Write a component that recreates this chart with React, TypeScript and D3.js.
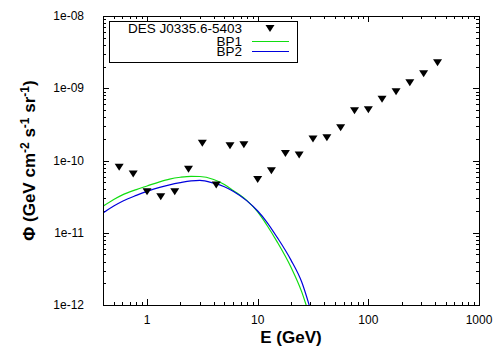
import React, { useEffect, useRef } from 'react';
import * as d3 from 'd3';

// DES J0335.6-5403 upper limits
const energies = [0.56, 0.75, 1.0, 1.33, 1.78, 2.37, 3.16, 4.22, 5.62, 7.5, 10, 13.3, 17.8, 23.7, 31.6, 42.2, 56.2, 75, 100, 133, 178, 237, 316, 422];
const fluxes = [8.05e-11, 6.5e-11, 3.7e-11, 3.16e-11, 3.7e-11, 7.55e-11, 1.73e-10, 4.58e-11, 1.6e-10, 1.65e-10, 5.46e-11, 7.22e-11, 1.25e-10, 1.19e-10, 1.99e-10, 2.07e-10, 2.84e-10, 4.89e-10, 5.05e-10, 7.03e-10, 8.96e-10, 1.19e-9, 1.59e-9, 2.26e-9];

// model curves
const curveE = [0.4, 0.5, 0.6, 0.8, 1, 1.3, 1.6, 2, 2.5, 3, 4, 5, 6, 8, 10, 12, 15, 20, 25, 30];
const bp1 = [2.32e-11, 2.88e-11, 3.34e-11, 3.96e-11, 4.44e-11, 5.07e-11, 5.53e-11, 5.86e-11, 6.04e-11, 6.01e-11, 5.46e-11, 4.66e-11, 3.85e-11, 2.78e-11, 1.94e-11, 1.3e-11, 7.47e-12, 3.33e-12, 1.52e-12, 6.4e-13];
const bp2 = [1.87e-11, 2.34e-11, 2.73e-11, 3.29e-11, 3.74e-11, 4.25e-11, 4.61e-11, 4.94e-11, 5.22e-11, 5.32e-11, 4.86e-11, 4.33e-11, 3.75e-11, 2.76e-11, 2.0e-11, 1.43e-11, 8.63e-12, 4.18e-12, 2.08e-12, 8.67e-13];

const xTicks = [1, 10, 100, 1000];
const xTickLabels = ['1', '10', '100', '1000'];
const yTicks = [1e-12, 1e-11, 1e-10, 1e-9, 1e-8];
const yTickLabels = ['1e-12', '1e-11', '1e-10', '1e-09', '1e-08'];

const FONT = '"Liberation Sans", Arial, sans-serif';

const App = () => {
  const svgRef = useRef<SVGSVGElement>(null);

  useEffect(() => {
    const width = 500;
    const height = 350;
    const margin = { top: 16, right: 21, bottom: 45, left: 103 };

    const svg = d3.select(svgRef.current)
      .attr('width', width)
      .attr('height', height);
    svg.selectAll('*').remove();

    const x = d3.scaleLog().domain([0.4, 1000]).range([margin.left, width - margin.right]);
    const y = d3.scaleLog().domain([1e-12, 1e-8]).range([height - margin.bottom, margin.top]);
    const [x0, x1] = x.range();
    const [y0, y1] = y.range();

    svg.append('rect')
      .attr('width', width).attr('height', height).attr('fill', '#fff');

    svg.append('clipPath').attr('id', 'plot-clip')
      .append('rect')
      .attr('x', x0).attr('y', y1).attr('width', x1 - x0).attr('height', y0 - y1);

    const ticks = svg.append('g').attr('stroke', '#000').attr('stroke-width', 1);

    // x ticks, bottom and mirrored on top
    const xMinor: number[] = [];
    [0.1, 1, 10, 100].forEach(dec => {
      for (let k = 2; k <= 9; k++) {
        const v = dec * k;
        if (v > 0.4 && v < 1000) xMinor.push(v);
      }
    });
    xMinor.forEach(v => {
      const px = Math.round(x(v)) + 0.5;
      ticks.append('line').attr('x1', px).attr('x2', px).attr('y1', y0).attr('y2', y0 - 3);
      ticks.append('line').attr('x1', px).attr('x2', px).attr('y1', y1).attr('y2', y1 + 3);
    });
    xTicks.forEach(v => {
      const px = Math.round(x(v)) + 0.5;
      ticks.append('line').attr('x1', px).attr('x2', px).attr('y1', y0).attr('y2', y0 - 6);
      ticks.append('line').attr('x1', px).attr('x2', px).attr('y1', y1).attr('y2', y1 + 6);
    });

    // y ticks, left and mirrored on right
    const yMinor: number[] = [];
    [1e-12, 1e-11, 1e-10, 1e-9].forEach(dec => {
      for (let k = 2; k <= 9; k++) yMinor.push(dec * k);
    });
    yMinor.forEach(v => {
      const py = Math.round(y(v)) + 0.5;
      ticks.append('line').attr('x1', x0).attr('x2', x0 + 3).attr('y1', py).attr('y2', py);
      ticks.append('line').attr('x1', x1).attr('x2', x1 - 3).attr('y1', py).attr('y2', py);
    });
    yTicks.forEach(v => {
      const py = Math.round(y(v)) + 0.5;
      ticks.append('line').attr('x1', x0).attr('x2', x0 + 6).attr('y1', py).attr('y2', py);
      ticks.append('line').attr('x1', x1).attr('x2', x1 - 6).attr('y1', py).attr('y2', py);
    });

    // tick labels
    svg.append('g').selectAll('text')
      .data(xTicks)
      .enter().append('text')
      .attr('x', d => x(d))
      .attr('y', y0 + 19)
      .attr('text-anchor', 'middle')
      .style('font-family', FONT)
      .style('font-size', '12px')
      .text((d, i) => xTickLabels[i]);

    svg.append('g').selectAll('text')
      .data(yTicks)
      .enter().append('text')
      .attr('x', x0 - 19)
      .attr('y', d => y(d) + 4)
      .attr('text-anchor', 'end')
      .style('font-family', FONT)
      .style('font-size', '12px')
      .text((d, i) => yTickLabels[i]);

    // model curves
    const line = d3.line<number>()
      .x((d, i) => x(curveE[i]))
      .y(d => y(d))
      .curve(d3.curveMonotoneX);

    const curves = svg.append('g').attr('clip-path', 'url(#plot-clip)');
    curves.append('path')
      .attr('d', line(bp1))
      .attr('fill', 'none')
      .attr('stroke', '#11dd11')
      .attr('stroke-width', 1.2);
    curves.append('path')
      .attr('d', line(bp2))
      .attr('fill', 'none')
      .attr('stroke', '#0000dd')
      .attr('stroke-width', 1.2);

    // upper limit markers
    const tri = 'M-4.5,-3.5L4.5,-3.5L0,3.5Z';
    svg.append('g').selectAll('path')
      .data(fluxes)
      .enter().append('path')
      .attr('d', tri)
      .attr('transform', (d, i) => `translate(${x(energies[i])},${y(d)})`)
      .attr('fill', '#000');

    // frame
    svg.append('rect')
      .attr('x', x0 + 0.5).attr('y', y1 + 0.5)
      .attr('width', x1 - x0).attr('height', y0 - y1)
      .attr('fill', 'none')
      .attr('stroke', '#000');

    // legend
    const key = svg.append('g');
    key.append('rect')
      .attr('x', 109.5).attr('y', 21.5).attr('width', 188).attr('height', 41)
      .attr('fill', '#fff').attr('stroke', '#000');
    const rows = [
      { label: 'DES J0335.6-5403', y: 28.5 },
      { label: 'BP1', y: 41.5 },
      { label: 'BP2', y: 51.5 }
    ];
    key.selectAll('text')
      .data(rows)
      .enter().append('text')
      .attr('x', 242)
      .attr('y', d => d.y + 4.5)
      .attr('text-anchor', 'end')
      .style('font-family', FONT)
      .style('font-size', '13.5px')
      .text(d => d.label);
    key.append('path')
      .attr('d', tri)
      .attr('transform', `translate(270,${rows[0].y})`)
      .attr('fill', '#000');
    key.append('line')
      .attr('x1', 252).attr('x2', 289).attr('y1', rows[1].y).attr('y2', rows[1].y)
      .attr('stroke', '#11dd11');
    key.append('line')
      .attr('x1', 252).attr('x2', 289).attr('y1', rows[2].y).attr('y2', rows[2].y)
      .attr('stroke', '#0000dd');

    // axis titles
    svg.append('text')
      .attr('x', (x0 + x1) / 2)
      .attr('y', 343)
      .attr('text-anchor', 'middle')
      .style('font-family', FONT)
      .style('font-size', '17px')
      .style('font-weight', 'bold')
      .text('E (GeV)');

    const yTitle = svg.append('text')
      .attr('transform', `translate(35,${(y0 + y1) / 2}) rotate(-90)`)
      .attr('text-anchor', 'middle')
      .style('font-family', FONT)
      .style('font-size', '17px')
      .style('font-weight', 'bold');
    yTitle.append('tspan').text('Φ (GeV cm');
    yTitle.append('tspan').attr('dy', -6).style('font-size', '12px').text('-2');
    yTitle.append('tspan').attr('dy', 6).text(' s');
    yTitle.append('tspan').attr('dy', -6).style('font-size', '12px').text('-1');
    yTitle.append('tspan').attr('dy', 6).text(' sr');
    yTitle.append('tspan').attr('dy', -6).style('font-size', '12px').text('-1');
    yTitle.append('tspan').attr('dy', 6).text(')');
  }, []);

  return <svg ref={svgRef} style={{ position: 'absolute', left: 0, top: 0 }}></svg>;
};

export default App;
